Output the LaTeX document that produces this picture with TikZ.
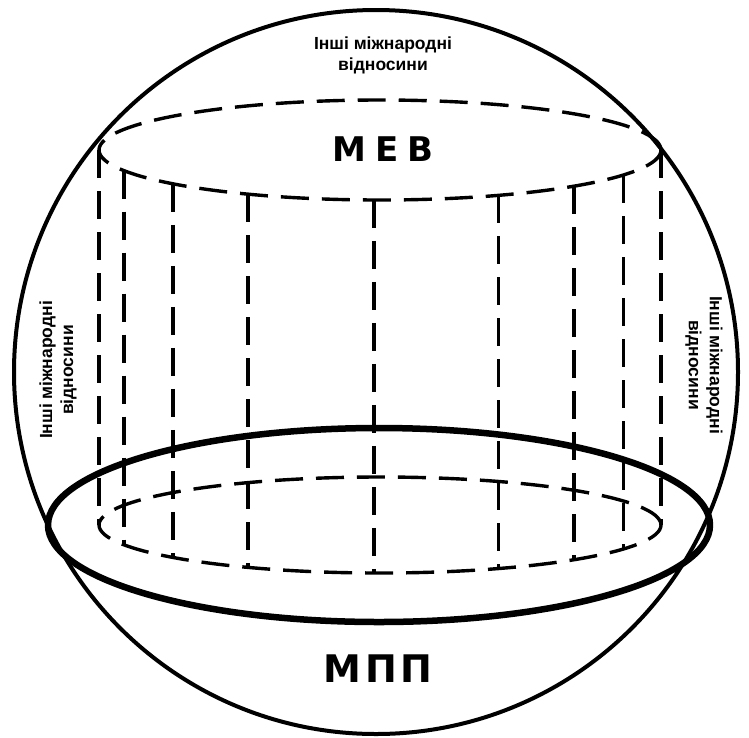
\documentclass[tikz,border=0pt]{standalone}
\usepackage{fontspec}
\setmainfont{Liberation Sans}
\newfontfamily\capsfont{DejaVu Sans}
\usetikzlibrary{calc}

\begin{document}
\begin{tikzpicture}[x=1pt, y=1pt, line join=round,
    sphere/.style={line width=4pt},
    rim/.style={line width=6.5pt},
    hidden/.style={line width=3.4pt, dash pattern=on 28pt off 13pt},
    side label/.style={font=\bfseries\fontsize{17.5}{21}\selectfont, align=center},
    big label/.style={font=\capsfont\bfseries\fontsize{34}{34}\selectfont}]

    \useasboundingbox (0,0) rectangle (749,-737);

    % Sphere of all relations
    \coordinate (O) at (376,-372);
    \draw[sphere] (O) circle (362);

    % Cylinder: top face, bottom face and its dashed generators
    \coordinate (T) at (380,-150);
    \coordinate (B) at (380,-525);
    \draw[hidden] (T) ellipse [x radius=281, y radius=50];
    \draw[hidden] (B) ellipse [x radius=281, y radius=48];
    \foreach \t [count=\i] in {180,204.4,222.5,242,268.8,295,313.7,330,360} {
        \coordinate (top\i) at ($(T)+(\t:281 and 50)$);
        \coordinate (bot\i) at ($(B)+(\t:281 and 48)$);
        \draw[hidden] (top\i) -- (bot\i);
    }

    % Thick rim (equator of the sphere)
    \coordinate (E) at (379,-525);
    \draw[rim] (E) ellipse [x radius=331, y radius=97];

    % Labels
    \node[big label] (meb) at (383,-149) {М\hspace{9pt}Е\hspace{9pt}В};
    \node[big label, font=\capsfont\bfseries\fontsize{38}{38}\selectfont] (mpp) at (378,-669) {М\hspace{4pt}П\hspace{4pt}П};
    \node[side label] (topinfo) at (383,-55) {Інші міжнародні\\відносини};
    \node[side label, rotate=90] (leftinfo) at (58,-370) {Інші міжнародні\\відносини};
    \node[side label, rotate=-90] (rightinfo) at (704,-365) {Інші міжнародні\\відносини};

\end{tikzpicture}
\end{document}
